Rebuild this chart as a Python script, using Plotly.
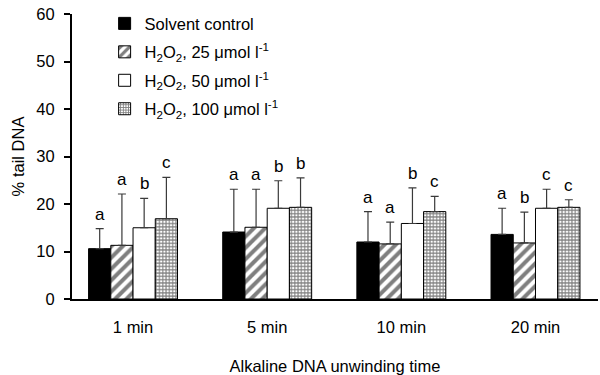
import plotly.graph_objects as go

categories = ["1 min", "5 min", "10 min", "20 min"]
series_names = [
    "Solvent control",
    "H<sub>2</sub>O<sub>2</sub>, 25 μmol l<sup>-1</sup>",
    "H<sub>2</sub>O<sub>2</sub>, 50 μmol l<sup>-1</sup>",
    "H<sub>2</sub>O<sub>2</sub>, 100 μmol l<sup>-1</sup>",
]
solvent_control = [10.6, 14.1, 12.0, 13.6]
h2o2_25 = [11.3, 15.1, 11.6, 11.8]
h2o2_50 = [15.0, 19.1, 15.9, 19.1]
h2o2_100 = [16.9, 19.3, 18.4, 19.3]
sd_solvent = [4.2, 9.0, 6.4, 5.5]
sd_25 = [10.8, 8.0, 4.6, 6.5]
sd_50 = [6.2, 5.8, 7.5, 4.0]
sd_100 = [8.7, 6.2, 3.2, 1.6]
letters_solvent = ["a", "a", "a", "a"]
letters_25 = ["a", "a", "a", "b"]
letters_50 = ["b", "b", "b", "c"]
letters_100 = ["c", "b", "c", "c"]

values = [solvent_control, h2o2_25, h2o2_50, h2o2_100]
errors = [sd_solvent, sd_25, sd_50, sd_100]
letters = [letters_solvent, letters_25, letters_50, letters_100]

FONT = "Arial, Liberation Sans, sans-serif"
bargap = 0.337
nser = len(values)
barw = (1 - bargap) / nser

markers = [
    dict(color="black", line=dict(color="black", width=1)),
    dict(color="white", line=dict(color="black", width=1),
         pattern=dict(shape="/", fgcolor="black", bgcolor="white", size=8, solidity=0.5)),
    dict(color="white", line=dict(color="black", width=1)),
    dict(color="white", line=dict(color="black", width=1),
         pattern=dict(shape="+", fgcolor="black", bgcolor="white", size=3.3, solidity=0.55)),
]

fig = go.Figure()
xs = list(range(len(categories)))
for j in range(nser):
    fig.add_trace(go.Bar(
        x=xs, y=values[j], name=series_names[j], marker=markers[j],
        legendgroup="g%d" % j,
        error_y=dict(type="data", array=errors[j], arrayminus=[0] * len(xs), symmetric=False,
                     color="#3a3a3a", thickness=1.2, width=4),
    ))

annotations = []
for j in range(nser):
    for i in xs:
        annotations.append(dict(
            x=i + (j - (nser - 1) / 2) * barw, y=values[j][i] + errors[j][i],
            text=letters[j][i], showarrow=False, yanchor="bottom", yshift=3,
            font=dict(family=FONT, size=17, color="black"),
        ))

fig.update_layout(
    width=600, height=375,
    margin=dict(l=72, r=2, t=14, b=75.5, autoexpand=False),
    paper_bgcolor="white", plot_bgcolor="white",
    barmode="group", bargap=bargap, bargroupgap=0,
    font=dict(family=FONT, size=16, color="black"),
    showlegend=True,
    legend=dict(x=0.062, y=1.0275, xanchor="left", yanchor="top",
                font=dict(family=FONT, size=16.5), bgcolor="rgba(0,0,0,0)",
                tracegroupgap=4, itemwidth=30),
    annotations=annotations,
)
fig.update_xaxes(
    tickmode="array", tickvals=xs, ticktext=categories,
    range=[-0.455, 3.466], showline=True, linecolor="black", linewidth=2,
    ticks="", showgrid=False, zeroline=False, ticklabelstandoff=12, automargin=False,
    tickfont=dict(family=FONT, size=16.5),
    title=dict(text="Alkaline DNA unwinding time", font=dict(family=FONT, size=16.5), standoff=26),
)
fig.update_yaxes(
    range=[0, 60], tickvals=[0, 10, 20, 30, 40, 50, 60],
    showline=True, linecolor="black", linewidth=2,
    ticks="outside", ticklen=6, tickwidth=1.5, tickcolor="black",
    showgrid=False, zeroline=False, ticklabelstandoff=6, automargin=False,
    tickfont=dict(family=FONT, size=16.5),
    title=dict(text="% tail DNA", font=dict(family=FONT, size=16.5), standoff=8),
)

fig.write_html("out.html", config={"displayModeBar": False},
               post_script="document.body.style.margin='0';")
